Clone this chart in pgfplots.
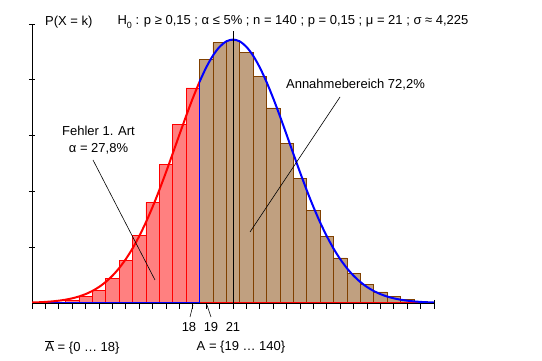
\documentclass[border=0pt]{standalone}
\usepackage{pgfplots}
\pgfplotsset{compat=1.18}
\usepackage{fontspec}
\setmainfont{Liberation Sans}
\definecolor{barred}{HTML}{FF8080}
\definecolor{barbrown}{HTML}{C0A080}
\definecolor{edgebrown}{HTML}{804000}
\begin{document}
\begin{tikzpicture}[x=1pt,y=1pt,font=\fontsize{13}{15}\selectfont]
\useasboundingbox (0,0) rectangle (542,361);
\begin{axis}[at={(32pt,58pt)}, anchor=south west, scale only axis,
  width=402pt, height=279pt,
  xmin=6, xmax=36, ymin=0, ymax=0.1,
  axis lines=left, axis line style={-, black, line width=0.8pt},
  xtick={6,...,36}, xticklabels={},
  ytick={0.02,0.04,0.06,0.08,0.1}, yticklabels={},
  tick align=outside, major tick length=6pt,
  tick style={black, line width=0.8pt},
  y tick style={xshift=3pt},
  clip=true]
% binomial bars n=140, p=0.15
\addplot[ybar, bar width=1, bar shift=0pt, fill=barred, draw=red, line width=0.8pt] coordinates {
(6,0.0000372) (7,0.0001258) (8,0.0003691) (9,0.0009552) (10,0.0022082)
(11,0.0046054) (12,0.0087368) (13,0.0151806) (14,0.0243017) (15,0.0360237)
(16,0.0496650) (17,0.0639286) (18,0.0770904)};
\addplot[ybar, bar width=1, bar shift=0pt, fill=barbrown, draw=edgebrown, line width=0.8pt] coordinates {
(19,0.0873531) (20,0.0932623) (21,0.0940460) (22,0.0897712) (23,0.0812762)
(24,0.0699217) (25,0.0572535) (26,0.0446887) (27,0.0332974) (28,0.0237140)
(29,0.0161622) (30,0.0105531) (31,0.0066082) (32,0.0039722) (33,0.0022941)
(34,0.0012741) (35,0.0006809) (36,0.0003505)};
% baselines
\addplot[blue, line width=1.2pt] coordinates {(6,0) (18.5,0)};
\addplot[red, line width=1.2pt] coordinates {(18.5,0) (36,0)};
% normal approximation
\addplot[red, line width=2pt, smooth] coordinates {
(6,0.00017301) (6.5,0.00026152) (7,0.00038981) (7.5,0.00057298) (8,0.00083040)
(8.5,0.0011866) (9,0.0016724) (9.5,0.0023244) (10,0.0031862) (10.5,0.0043051)
(11,0.0057370) (11.5,0.0075382) (12,0.0097675) (12.5,0.012479) (13,0.015724)
(13.5,0.019537) (14,0.023938) (14.5,0.028914) (15,0.034448) (15.5,0.040467)
(16,0.046877) (16.5,0.053547) (17,0.060322) (17.5,0.067001) (18,0.073391)
(18.5,0.079260)};
\addplot[blue, line width=2pt, smooth] coordinates {
(18.5,0.079260) (19,0.084415) (19.5,0.088657) (20,0.091816) (20.5,0.093765)
(21,0.094424) (21.5,0.093765) (22,0.091816) (22.5,0.088657) (23,0.084415)
(23.5,0.079260) (24,0.073391) (24.5,0.067001) (25,0.060322) (25.5,0.053547)
(26,0.046877) (26.5,0.040467) (27,0.034448) (27.5,0.028914) (28,0.023938)
(28.5,0.019537) (29,0.015724) (29.5,0.012479) (30,0.0097675) (30.5,0.0075382)
(31,0.0057370) (31.5,0.0043051) (32,0.0031862) (32.5,0.0023244) (33,0.0016724)
(33.5,0.0011866) (34,0.00083040) (34.5,0.00057298) (35,0.00038981) (35.5,0.00026152)
(36,0.00017301)};
% boundary and mean lines
\addplot[blue, line width=1.6pt] coordinates {(18.5,0) (18.5,0.079260)};
\addplot[black, line width=0.8pt] coordinates {(21,0) (21,0.0975)};
\end{axis}
% right end tick
\draw[line width=0.8pt] (434,61) -- (434,52);
% texts
\node[anchor=west, inner sep=0pt] at (45,339) {P(X = k)};
\node[inner sep=0pt] at (293,339) {H\raisebox{-0.25em}{\fontsize{9}{9}\selectfont 0} : p ≥ 0,15 ; α ≤ 5\% ; n = 140 ; p = 0,15 ; μ = 21 ; σ ≈ 4,225};
\node[inner sep=0pt] at (355.5,276) {Annahmebereich 72,2\%};
\draw[line width=0.6pt] (340,264) -- (250,129);
\node[inner sep=0pt] at (98.5,230) {Fehler 1. Art};
\node[inner sep=0pt] at (98.5,212) {α = 27,8\%};
\draw[line width=0.6pt] (93,201) -- (155,81);
\node[inner sep=0pt] at (189,34) {18};
\node[inner sep=0pt] at (211,34) {19};
\node[inner sep=0pt] at (233,34) {21};
\draw[line width=0.6pt] (193,56) -- (190,44);
\draw[line width=0.6pt] (207,56) -- (211,44);
\node[inner sep=0pt] at (82.5,14) {$\overline{\mbox{A}}$ = \{0 … 18\}};
\node[inner sep=0pt] at (241,14) {A = \{19 … 140\}};
\end{tikzpicture}
\end{document}
